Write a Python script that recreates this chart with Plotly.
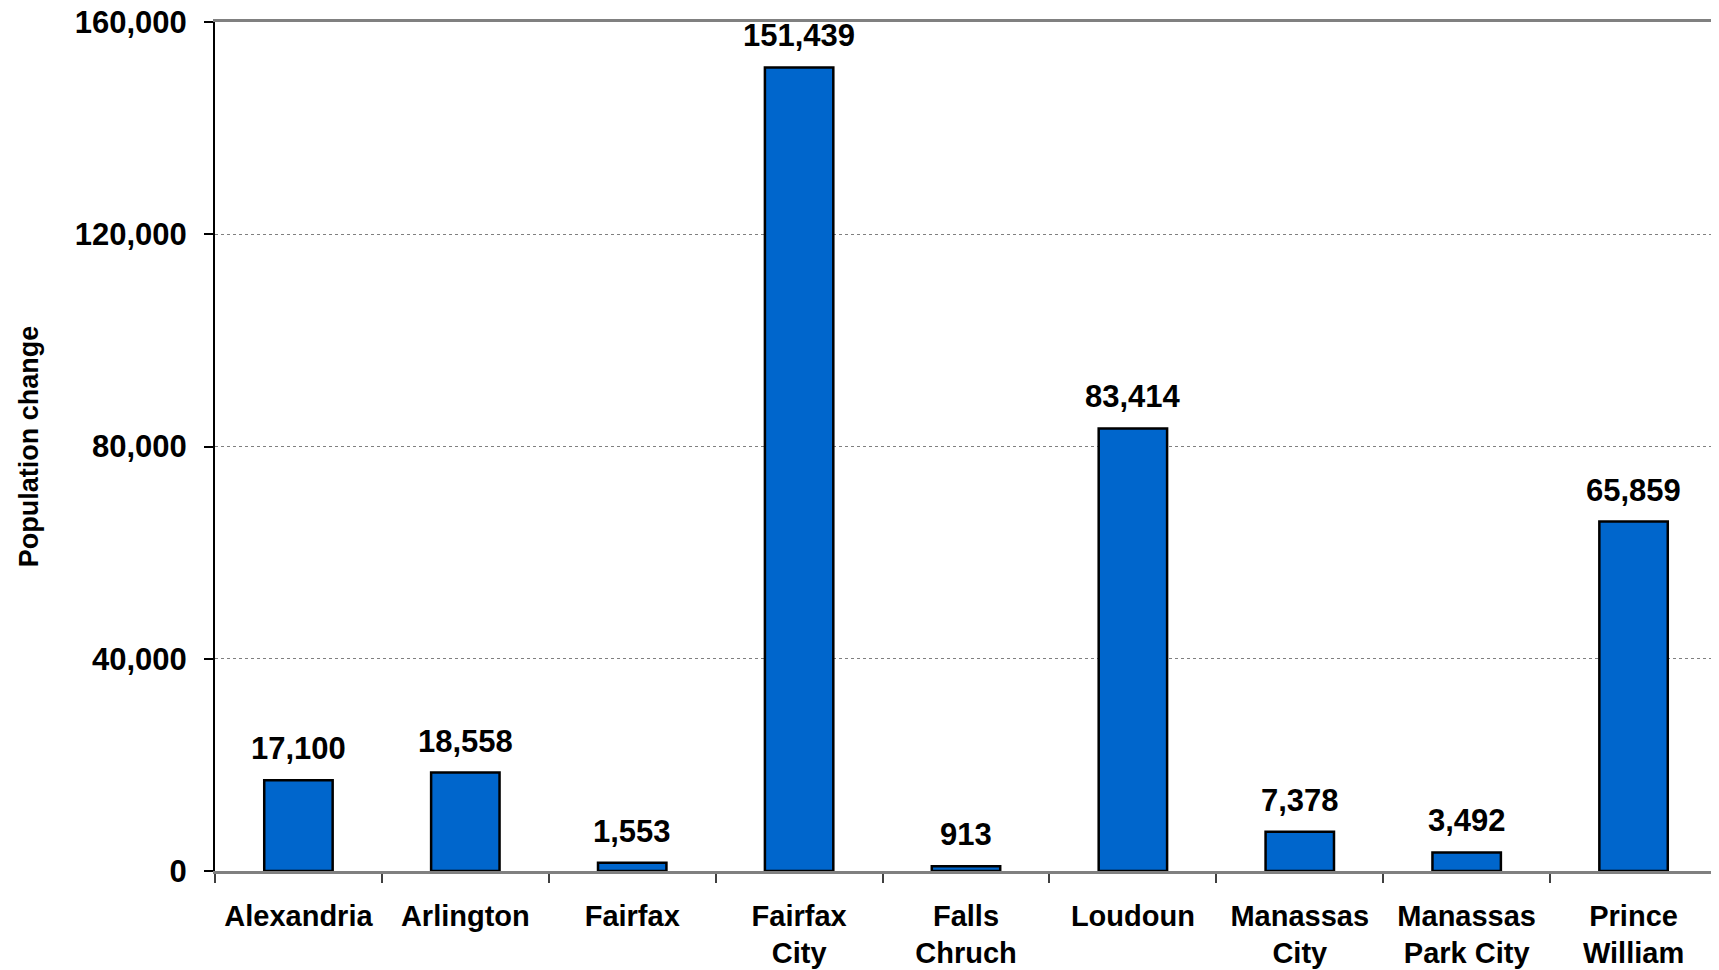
import plotly.graph_objects as go

categories = ["Alexandria", "Arlington", "Fairfax", "Fairfax<br>City", "Falls<br>Chruch",
              "Loudoun", "Manassas<br>City", "Manassas<br>Park City", "Prince<br>William"]
values = [17100, 18558, 1553, 151439, 913, 83414, 7378, 3492, 65859]
y_ticks = [0, 40000, 80000, 120000, 160000]
y_title = "Population change"

FONT = "Liberation Sans, Arial, sans-serif"

fig = go.Figure()
fig.add_trace(go.Bar(
    x=categories, y=values,
    marker=dict(color="#0066CC", line=dict(color="#000000", width=2.5)),
    hoverinfo="x+y",
))

for c, v in zip(categories, values):
    fig.add_annotation(
        x=c, y=v, xref="x", yref="y",
        text=f"{v:,}", showarrow=False,
        yanchor="bottom", yshift=12,
        font=dict(family=FONT, size=31, color="#000000", weight="bold"),
    )

# page body has an 8px margin, so the figure is sized to fit the window
fig.update_layout(
    width=1711, height=962,
    margin=dict(l=207, r=2, t=14, b=99),
    paper_bgcolor="white", plot_bgcolor="white",
    bargap=0.59,
    showlegend=False,
    font=dict(family=FONT, color="#000000"),
)

fig.update_xaxes(
    type="category", automargin=False,
    showline=True, linecolor="#808080", linewidth=2.5, mirror=True,
    ticks="outside", tickson="boundaries", ticklen=9, tickwidth=1.5, tickcolor="#404040",
    tickfont=dict(family=FONT, size=29, color="#000000", weight="bold"),
    ticklabelstandoff=17,
    showgrid=False, zeroline=False,
)

fig.update_yaxes(
    range=[0, 160000], tickvals=y_ticks, tickformat=",", automargin=False,
    showline=True, linecolor="#000000", linewidth=2,
    ticks="outside", ticklen=9, tickwidth=2, tickcolor="#000000",
    tickfont=dict(family=FONT, size=31, color="#000000", weight="bold"),
    ticklabelstandoff=11, ticklabeloverflow="allow",
    showgrid=True, gridcolor="#808080", gridwidth=1, griddash="dot",
    zeroline=False,
    title=dict(text=y_title, font=dict(family=FONT, size=27, color="#000000", weight="bold"), standoff=28),
)

fig.add_shape(type="line", xref="paper", yref="paper", x0=1, x1=1, y0=0, y1=1,
              line=dict(color="#d9d9d9", width=2))

fig.write_html("out.html")
